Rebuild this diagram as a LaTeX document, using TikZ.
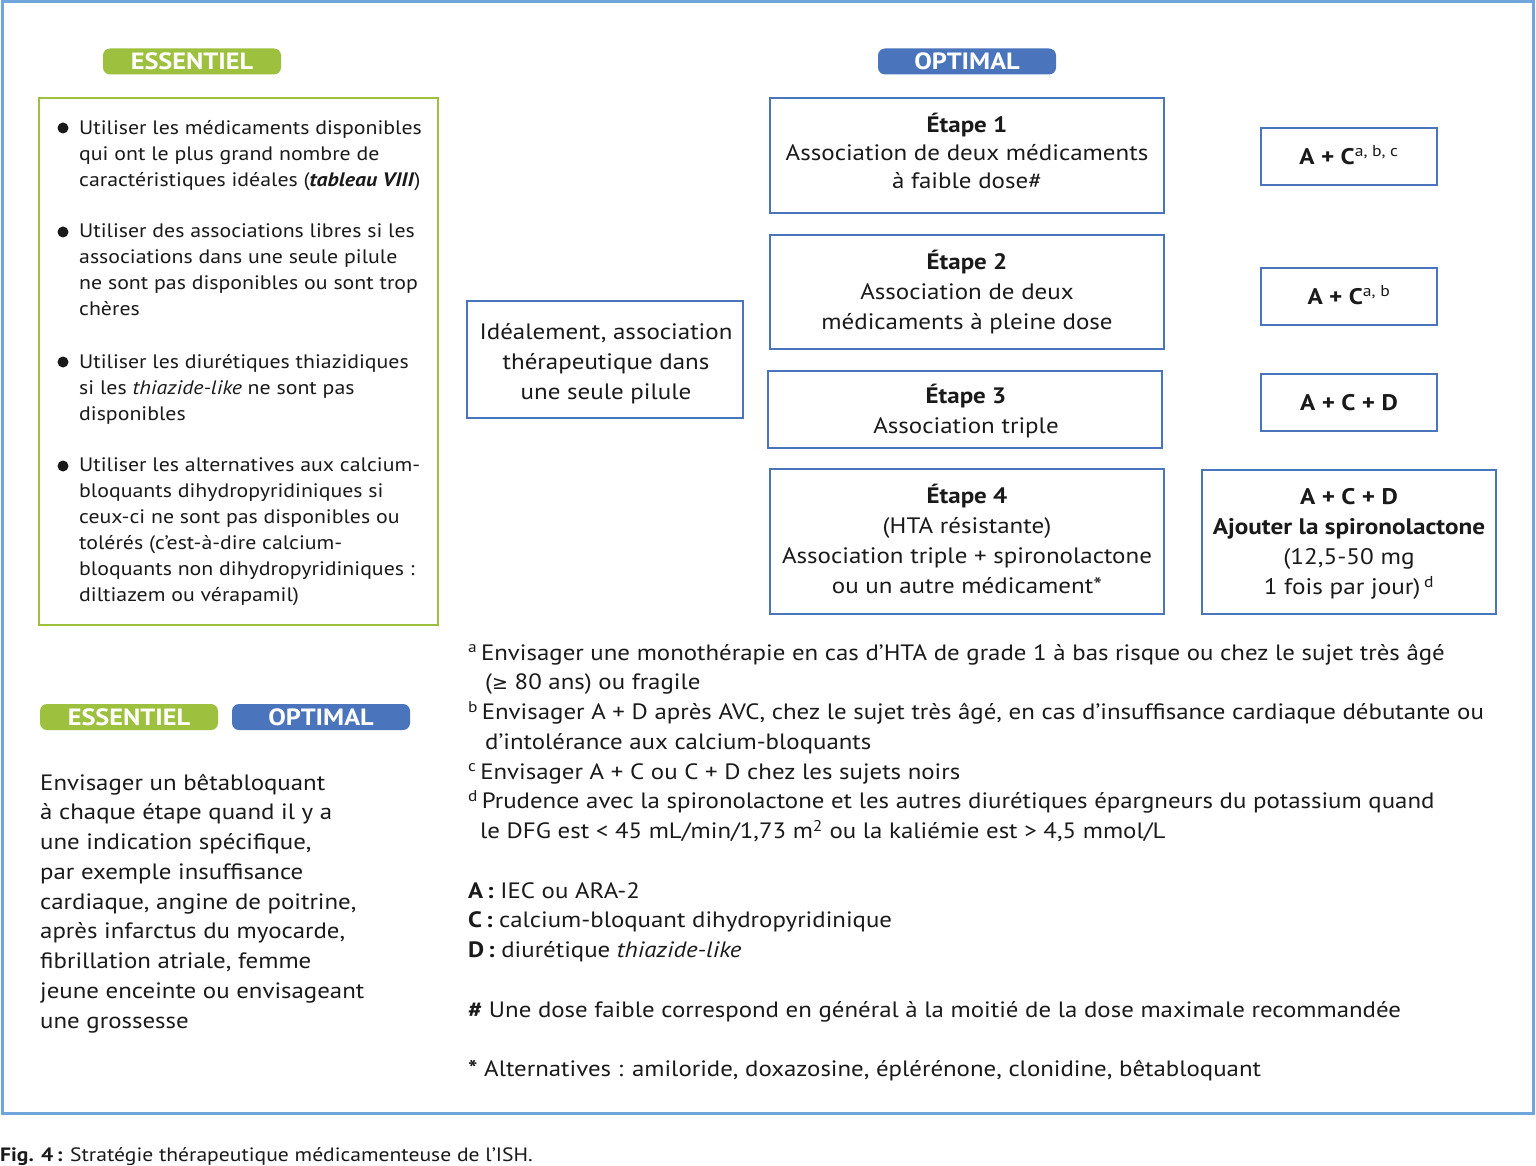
\documentclass[tikz,border=0pt]{standalone}
\usepackage{fontspec}
\setmainfont{PT Sans}[FakeStretch=1.12]
\newfontfamily\dejavu{DejaVu Sans}
\definecolor{essgreen}{HTML}{9DC03E}
\definecolor{optblue}{HTML}{4A74BC}
\definecolor{frameblue}{HTML}{6FA6DC}
\definecolor{txt}{HTML}{1A1A1A}
\begin{document}
\begin{tikzpicture}[x=1pt,y=-1pt,
  every node/.style={text=txt},
  badge/.style={rounded corners=7pt, minimum width=178pt, minimum height=26pt, inner sep=0pt,
     font=\fontsize{23.5}{23.5}\selectfont\bfseries, text=white},
  gbadge/.style={badge, fill=essgreen},
  bbadge/.style={badge, fill=optblue},
  frame/.style={draw=optblue, line width=2.6pt, inner sep=0pt},
  boxtext/.style={align=center, inner sep=0pt, font=\fontsize{22.3}{30}\selectfont,
     execute at begin node=\strut, execute at end node=\strut},
  para/.style={anchor=north west, inner sep=0pt, align=left,
     execute at begin node=\strut, execute at end node=\strut},
  listtext/.style={para, font=\fontsize{19.5}{26}\selectfont},
  bodytext/.style={para, font=\fontsize{22.2}{29.75}\selectfont},
]
\useasboundingbox (0,0) rectangle (1536,1166);
\fill[white] (0,0) rectangle (1536,1166);
\draw[frameblue, line width=3pt] (2,2) rectangle (1533,1113);

% badges
\node[gbadge] (ess1) at (192,61.5) {ESSENTIEL};
\node[bbadge] (opt1) at (967,61.5) {OPTIMAL};
\node[gbadge] (ess2) at (129,717) {ESSENTIEL};
\node[bbadge] (opt2) at (321,717) {OPTIMAL};

% essentiel box
\node[draw=essgreen, line width=2.6pt, minimum width=399pt, minimum height=527pt, inner sep=0pt] (essbox) at (238.5,361.5) {};
\foreach \yy in {128,232,362,466} \fill[txt] (63,\yy) circle (5.5);
\node[listtext] (b1) at (79,119.8) {Utiliser les médicaments disponibles\\qui ont le plus grand nombre de\\caractéristiques idéales (\textbf{\textit{tableau VIII}})};
\node[listtext] (b2) at (79,223.8) {Utiliser des associations libres si les\\associations dans une seule pilule\\ne sont pas disponibles ou sont trop\\chères};
\node[listtext] (b3) at (79,353.8) {Utiliser les diurétiques thiazidiques\\si les \textit{thiazide-like} ne sont pas\\disponibles};
\node[listtext] (b4) at (79,457.8) {Utiliser les alternatives aux calcium-\\bloquants dihydropyridiniques si\\ceux-ci ne sont pas disponibles ou\\tolérés (c’est-à-dire calcium-\\bloquants non dihydropyridiniques :\\diltiazem ou vérapamil)};

% optimal boxes (frames)
\node[frame, minimum width=276pt, minimum height=117pt] (ideal) at (605,359.5) {};
\node[frame, minimum width=394pt, minimum height=115pt] (e1) at (967,155.5) {};
\node[frame, minimum width=394pt, minimum height=114pt] (e2) at (967,292) {};
\node[frame, minimum width=394pt, minimum height=77pt] (e3) at (965,409.5) {};
\node[frame, minimum width=394pt, minimum height=145pt] (e4) at (967,541.5) {};
\node[frame, minimum width=176pt, minimum height=57pt] (r1) at (1349,156.5) {};
\node[frame, minimum width=176pt, minimum height=57pt] (r2) at (1349,296.5) {};
\node[frame, minimum width=176pt, minimum height=57pt] (r3) at (1349,402.5) {};
\node[frame, minimum width=294pt, minimum height=144pt] (r4) at (1349,542) {};

% box texts
\node[boxtext] (idealt) at (606,366) {Idéalement, association\\thérapeutique dans\\une seule pilule};
\node[boxtext, font=\fontsize{22.3}{28}\selectfont] (e1t) at (967,155.5) {\textbf{Étape 1}\\Association de deux médicaments\\à faible dose\#};
\node[boxtext] (e2t) at (967,294.5) {\textbf{Étape 2}\\Association de deux\\médicaments à pleine dose};
\node[boxtext] (e3t) at (966,413.5) {\textbf{Étape 3}\\Association triple};
\node[boxtext] (e4t) at (967,543) {\textbf{Étape 4}\\(HTA résistante)\\Association triple + spironolactone\\ou un autre médicament*};
\node[boxtext, font=\fontsize{22.5}{30}\selectfont\bfseries] (r1t) at (1349,158.5) {A + C\textsuperscript{\mdseries a, b, c}};
\node[boxtext, font=\fontsize{22.5}{30}\selectfont\bfseries] (r2t) at (1349,298.5) {A + C\textsuperscript{\mdseries a, b}};
\node[boxtext, font=\fontsize{22.5}{30}\selectfont\bfseries] (r3t) at (1349,404.5) {A + C + D};
\node[boxtext, font=\fontsize{22.5}{30}\selectfont] (r4t) at (1349,546) {\textbf{A + C + D}\\\textbf{Ajouter la spironolactone}\\(12,5-50 mg\\1 fois par jour)\,\textsuperscript{d}};

% left bottom text
\node[bodytext] (beta) at (40,773.7) {Envisager un bêtabloquant\\à chaque étape quand il y a\\une indication spécifique,\\par exemple insuffisance\\cardiaque, angine de poitrine,\\après infarctus du myocarde,\\fibrillation atriale, femme\\jeune enceinte ou envisageant\\une grossesse};

% footnotes and legend
\node[bodytext] (notes) at (468,643.7) {\textsuperscript{a}\,Envisager une monothérapie en cas d’HTA de grade 1 à bas risque ou chez le sujet très âgé\\\hspace*{17pt}({\dejavu\fontsize{19}{20}\selectfont ≥} 80 ans) ou fragile\\\textsuperscript{b}\,Envisager A + D après AVC, chez le sujet très âgé, en cas d’insuffisance cardiaque débutante ou\\\hspace*{17pt}d’intolérance aux calcium-bloquants\\\textsuperscript{c}\,Envisager A + C ou C + D chez les sujets noirs\\\textsuperscript{d}\,Prudence avec la spironolactone et les autres diurétiques épargneurs du potassium quand\\\hspace*{12pt}le DFG est < 45 mL/min/1,73 m\textsuperscript{2} ou la kaliémie est > 4,5 mmol/L\\~\\\textbf{A\,:} IEC ou ARA-2\\\textbf{C\,:} calcium-bloquant dihydropyridinique\\\textbf{D\,:} diurétique \textit{thiazide-like}\\~\\\textbf{\#} Une dose faible correspond en général à la moitié de la dose maximale recommandée\\~\\\textbf{*} Alternatives : amiloride, doxazosine, éplérénone, clonidine, bêtabloquant};

% caption
\node[anchor=base west, inner sep=0pt, font=\fontsize{19.3}{22}\selectfont] (caption) at (0,1161) {\textbf{Fig. 4\,:} Stratégie thérapeutique médicamenteuse de l’ISH.};
\end{tikzpicture}
\end{document}
